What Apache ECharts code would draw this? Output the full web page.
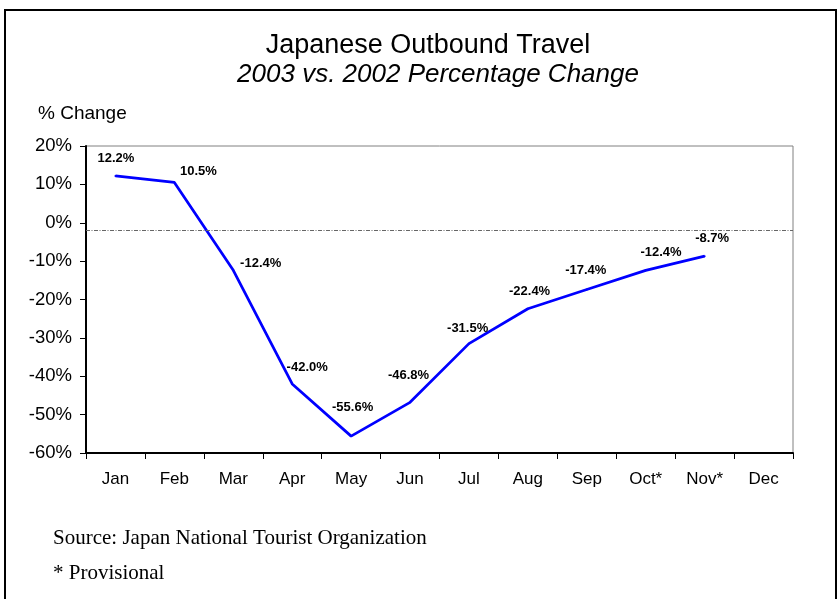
<!DOCTYPE html>
<html><head><meta charset="utf-8">
<script src="https://cdn.jsdelivr.net/npm/echarts@6/dist/echarts.min.js"></script>
<style>html,body{margin:0;padding:0;background:#fff}#c{width:838px;height:599px}</style>
</head><body><div id="c"></div>
<script>
const months = ['Jan','Feb','Mar','Apr','May','Jun','Jul','Aug','Sep','Oct*','Nov*','Dec'];
const pctChange = [12.2, 10.5, -12.4, -42.0, -55.6, -46.8, -31.5, -22.4, -17.4, -12.4, -8.7, null];
const refLineValue = -1.9;
const yMin = -60, yMax = 20, yStep = 10;
// label placement (style only)
const labelOffsets = [[0.5,-18],[24,-10.6],[27.4,-6.7],[15,-16.3],[1.5,-28.4],[-1.5,-26.7],[-1.3,-15.7],[1.7,-17.3],[-1,-19.6],[15.3,-17.7],[7.5,-17.4],[0,0]];

const chart = echarts.init(document.getElementById('c'), null, {renderer:'canvas'});
const font = "'Liberation Sans', Arial, sans-serif";
const serif = "'Liberation Serif', 'Times New Roman', serif";
const SYM = 2;
chart.setOption({
  animation:false,
  title:[
    {text:'Japanese Outbound Travel', left:423, top:27, textAlign:'center',
     textStyle:{fontFamily:font, fontSize:27, fontWeight:'normal', color:'#000'}},
    {text:'2003 vs. 2002 Percentage Change', left:433, top:57, textAlign:'center',
     textStyle:{fontFamily:font, fontSize:26, fontStyle:'italic', fontWeight:'normal', color:'#000'}},
    {text:'% Change', left:33, top:99, textStyle:{fontFamily:font, fontSize:19, fontWeight:'normal', color:'#000'}},
    {text:'Source: Japan National Tourist Organization', left:48, top:523,
     textStyle:{fontFamily:serif, fontSize:21, fontWeight:'normal', color:'#000'}},
    {text:'* Provisional', left:48, top:558,
     textStyle:{fontFamily:serif, fontSize:21, fontWeight:'normal', color:'#000'}}
  ],
  graphic:[
    {type:'rect', shape:{x:5,y:10,width:831,height:600}, style:{fill:'none', stroke:'#000', lineWidth:2}, silent:true}
  ],
  grid:{left:86, top:146, right:45, bottom:146, show:true, borderColor:'#808080', borderWidth:1, backgroundColor:'transparent'},
  xAxis:{type:'category', data:months, boundaryGap:true,
    axisLine:{onZero:false, lineStyle:{color:'#000', width:2}},
    axisTick:{show:true, length:6, lineStyle:{color:'#000'}},
    axisLabel:{fontFamily:font, fontSize:17, color:'#000', margin:18, interval:0},
    splitLine:{show:false}},
  yAxis:{type:'value', min:yMin, max:yMax, interval:yStep,
    axisLine:{show:true, lineStyle:{color:'#000', width:2}},
    axisTick:{show:true, length:6, lineStyle:{color:'#000'}},
    axisLabel:{fontFamily:font, fontSize:18.5, color:'#000', margin:14, formatter:'{value}%'},
    splitLine:{show:false}},
  series:[{
    type:'line',
    data:pctChange.map((v,i)=>({value:v, label:{
      position:[SYM/2 + labelOffsets[i][0], SYM/2 + labelOffsets[i][1]],
      align:'center', verticalAlign:'middle'}})),
    symbol:'circle', symbolSize:SYM, showSymbol:true,
    itemStyle:{color:'#0000FF'},
    lineStyle:{color:'#0000FF', width:2.75},
    label:{show:true,
      formatter:p=> (p.value==null ? '' : Number(p.value).toFixed(1)+'%'),
      fontFamily:font, fontSize:13, fontWeight:'bold', color:'#000'},
    labelLayout:{hideOverlap:false},
    markLine:{silent:true, symbol:'none', label:{show:false},
      lineStyle:{color:'#666', type:[4,1.5,1,1.5], width:1},
      data:[{yAxis:refLineValue}]}
  }]
});
</script></body></html>
